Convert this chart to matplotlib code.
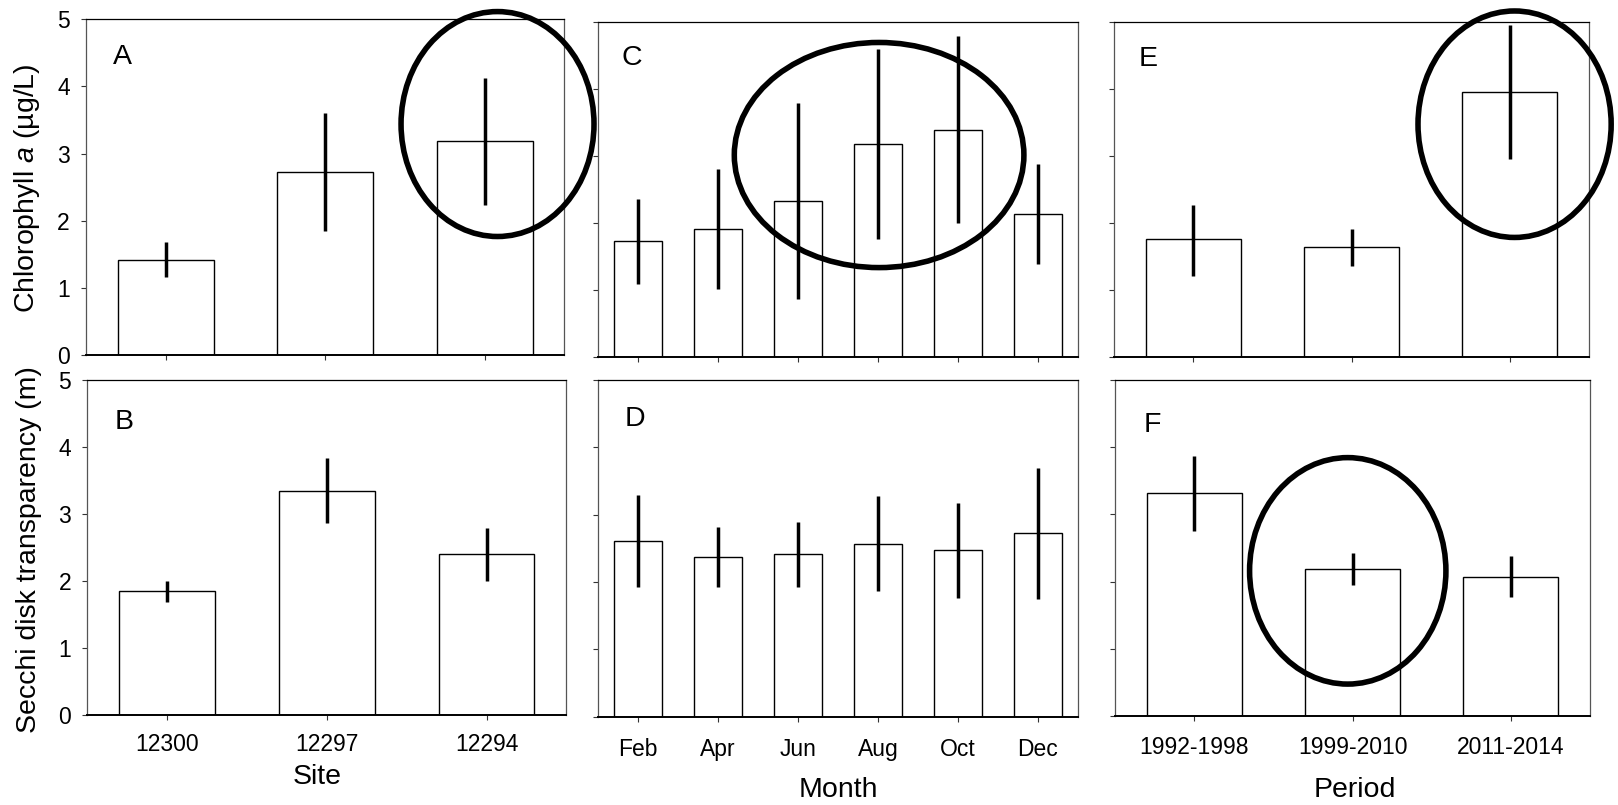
import numpy as np
import matplotlib
matplotlib.use("Agg")
import matplotlib.pyplot as plt
from matplotlib.patches import Ellipse

# ----------
# > Data <
# ----------
sites = ["12300", "12297", "12294"]
months = ["Feb", "Apr", "Jun", "Aug", "Oct", "Dec"]
periods = ["1992-1998", "1999-2010", "2011-2014"]

# chlorophyll a (ug/L): mean, lower / upper end of the error bar
chl_site = [1.42, 2.73, 3.18]
chl_site_lo = [1.16, 1.85, 2.24]
chl_site_hi = [1.69, 3.60, 4.13]

chl_month = [1.72, 1.91, 2.32, 3.17, 3.38, 2.13]
chl_month_lo = [1.08, 1.01, 0.86, 1.75, 1.99, 1.39]
chl_month_hi = [2.35, 2.80, 3.78, 4.59, 4.79, 2.87]

chl_period = [1.75, 1.63, 3.95]
chl_period_lo = [1.21, 1.35, 2.95]
chl_period_hi = [2.27, 1.91, 4.95]

# secchi disk transparency (m)
sec_site = [1.85, 3.35, 2.40]
sec_site_lo = [1.69, 2.87, 2.00]
sec_site_hi = [2.00, 3.83, 2.79]

sec_month = [2.61, 2.37, 2.42, 2.57, 2.47, 2.73]
sec_month_lo = [1.93, 1.93, 1.93, 1.87, 1.77, 1.75]
sec_month_hi = [3.29, 2.82, 2.89, 3.28, 3.17, 3.70]

sec_period = [3.32, 2.19, 2.07]
sec_period_lo = [2.76, 1.95, 1.77]
sec_period_hi = [3.87, 2.43, 2.38]

# highlight ellipses (data units): x center, y center, width, height
ellipse_A = (2.08, 3.44, 1.21, 3.35)
ellipse_C = (3.01, 3.01, 3.62, 3.36)
ellipse_E = (2.03, 3.47, 1.22, 3.38)
ellipse_F = (0.97, 2.16, 1.24, 3.37)

# ------------
# > Settings <
# ------------
W, H = 1618, 805
plt.rcParams["font.family"] = ["Liberation Sans", "DejaVu Sans"]
plt.rcParams["mathtext.fontset"] = "custom"
plt.rcParams["mathtext.rm"] = "Liberation Sans"
plt.rcParams["mathtext.it"] = "Liberation Sans:italic"

TICK_SIZE = 16.5
LABEL_SIZE = 20.5
LETTER_SIZE = 20.5
SPINE_GREY = "#555555"


def px_rect(left, top, right, bottom):
    return [left / W, 1 - bottom / H, (right - left) / W, (bottom - top) / H]


def draw_panel(ax, cats, mean, lo, hi, letter, letter_off,
               show_ylabels=False, show_xlabels=False, xpad=10, ellipse=None):
    x = np.arange(len(cats))
    mean = np.asarray(mean)
    yerr = [mean - np.asarray(lo), np.asarray(hi) - mean]

    ax.bar(x, mean, width=0.6, color="white", edgecolor="black", linewidth=1.0, zorder=2)
    ax.errorbar(x, mean, yerr=yerr, fmt="none", ecolor="black", elinewidth=2.5,
                capsize=0, zorder=3)

    ax.set_xlim(-0.5, len(cats) - 0.5)
    ax.set_ylim(0, 5)
    ax.set_xticks(x)
    ax.set_yticks(range(6))
    ax.set_xticklabels(cats if show_xlabels else [])
    if not show_ylabels:
        ax.set_yticklabels([])

    ax.tick_params(axis="both", direction="out", length=3.6, width=0.8,
                   labelsize=TICK_SIZE, color="#333333")
    ax.tick_params(axis="x", pad=xpad)
    ax.tick_params(axis="y", pad=8)

    for side in ["left", "right"]:
        ax.spines[side].set_color(SPINE_GREY)
        ax.spines[side].set_linewidth(0.9)
    ax.spines["top"].set_color("black")
    ax.spines["top"].set_linewidth(0.9)
    ax.spines["bottom"].set_color("black")
    ax.spines["bottom"].set_linewidth(1.4)

    ax.annotate(letter, xy=(0, 1), xycoords="axes fraction",
                xytext=(letter_off[0], -letter_off[1]), textcoords="offset pixels",
                ha="left", va="baseline", fontsize=LETTER_SIZE)

    if ellipse is not None:
        xc, yc, ew, eh = ellipse
        ax.add_patch(Ellipse((xc, yc), ew, eh, fill=False, edgecolor="black",
                             linewidth=4.0, clip_on=False, zorder=10))


fig = plt.figure(figsize=(W / 100, H / 100), dpi=100)

ax_A = fig.add_axes(px_rect(86.1, 19.3, 564.5, 355))
ax_B = fig.add_axes(px_rect(87.3, 380, 566.4, 715))
ax_C = fig.add_axes(px_rect(598.3, 21.7, 1078.3, 356.7))
ax_D = fig.add_axes(px_rect(598.3, 380, 1077.7, 716.7))
ax_E = fig.add_axes(px_rect(1114, 21.7, 1589, 356.7))
ax_F = fig.add_axes(px_rect(1115, 380, 1590, 716))

draw_panel(ax_A, sites, chl_site, chl_site_lo, chl_site_hi, "A", (26.8, 44.7),
           show_ylabels=True, ellipse=ellipse_A)
draw_panel(ax_B, sites, sec_site, sec_site_lo, sec_site_hi, "B", (27.5, 49.3),
           show_ylabels=True, show_xlabels=True, xpad=9)
draw_panel(ax_C, months, chl_month, chl_month_lo, chl_month_hi, "C", (23.2, 43.3),
           ellipse=ellipse_C)
draw_panel(ax_D, months, sec_month, sec_month_lo, sec_month_hi, "D", (26.5, 45.7),
           show_xlabels=True, xpad=12)
draw_panel(ax_E, periods, chl_period, chl_period_lo, chl_period_hi, "E", (24.8, 44.0),
           ellipse=ellipse_E)
draw_panel(ax_F, periods, sec_period, sec_period_lo, sec_period_hi, "F", (28.9, 52.3),
           show_xlabels=True, xpad=10.5, ellipse=ellipse_F)

# axis titles
fig.text(27 / W, 1 - 188 / H, "Chlorophyll $a$ (µg/L)", rotation=90,
         ha="center", va="center", fontsize=LABEL_SIZE)
fig.text(29 / W, 1 - 550 / H, "Secchi disk transparency (m)", rotation=90,
         ha="center", va="center", fontsize=LABEL_SIZE)
fig.text(317 / W, 1 - 777 / H, "Site", ha="center", va="center", fontsize=LABEL_SIZE)
fig.text(838 / W, 1 - 790 / H, "Month", ha="center", va="center", fontsize=LABEL_SIZE)
fig.text(1355 / W, 1 - 790 / H, "Period", ha="center", va="center", fontsize=LABEL_SIZE)

fig.savefig("out.png", dpi=100, facecolor="white")
